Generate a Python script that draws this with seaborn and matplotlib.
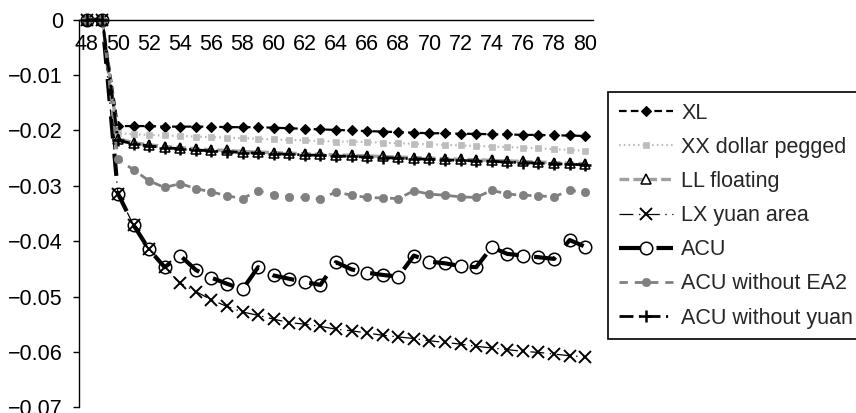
import numpy as np
import pandas as pd
import matplotlib
matplotlib.use("Agg")
import matplotlib.pyplot as plt
import seaborn as sns
from matplotlib.ticker import FixedLocator, FixedFormatter

# ---------------- data ----------------
periods = list(range(48, 81))

xl = [0, 0, -0.0192, -0.0192, -0.0192, -0.0193, -0.0193, -0.0193, -0.0193, -0.0194,
      -0.0194, -0.0194, -0.0195, -0.0196, -0.0197, -0.0198, -0.0199, -0.0200, -0.0201,
      -0.0202, -0.0203, -0.0204, -0.0205, -0.0205, -0.0206, -0.0206, -0.0207, -0.0207,
      -0.0208, -0.0208, -0.0209, -0.0209, -0.0210]
xx_dollar = [0, 0, -0.0205, -0.0207, -0.0208, -0.0209, -0.0210, -0.0211, -0.0212, -0.0213,
             -0.0214, -0.0215, -0.0216, -0.0217, -0.0218, -0.0219, -0.0220, -0.0220, -0.0221,
             -0.0222, -0.0223, -0.0224, -0.0225, -0.0226, -0.0227, -0.0228, -0.0229, -0.0230,
             -0.0231, -0.0232, -0.0234, -0.0235, -0.0237]
ll_floating = [0, 0, -0.0215, -0.0222, -0.0226, -0.0229, -0.0231, -0.0233, -0.0235, -0.0236,
               -0.0238, -0.0239, -0.0240, -0.0241, -0.0242, -0.0243, -0.0244, -0.0245, -0.0246,
               -0.0247, -0.0248, -0.0249, -0.0250, -0.0251, -0.0252, -0.0253, -0.0254, -0.0255,
               -0.0256, -0.0257, -0.0258, -0.0259, -0.0260]
lx_yuan = [0, 0, -0.0314, -0.0371, -0.0415, -0.0447, -0.0476, -0.0491, -0.0506, -0.0518,
           -0.0528, -0.0534, -0.0541, -0.0547, -0.0550, -0.0554, -0.0559, -0.0562, -0.0566,
           -0.0570, -0.0573, -0.0576, -0.0580, -0.0583, -0.0586, -0.0590, -0.0593, -0.0596,
           -0.0599, -0.0601, -0.0604, -0.0607, -0.0609]
acu = [0, 0, -0.0314, -0.0371, -0.0415, -0.0447, -0.0426, -0.0452, -0.0466, -0.0477,
       -0.0487, -0.0447, -0.0462, -0.0468, -0.0474, -0.0479, -0.0438, -0.0451, -0.0457,
       -0.0461, -0.0464, -0.0426, -0.0437, -0.0440, -0.0445, -0.0447, -0.0411, -0.0423,
       -0.0426, -0.0429, -0.0432, -0.0398, -0.0410]
acu_no_ea2 = [0, 0, -0.0252, -0.0271, -0.0291, -0.0303, -0.0296, -0.0305, -0.0311, -0.0318,
              -0.0323, -0.0309, -0.0316, -0.0320, -0.0321, -0.0324, -0.0311, -0.0317, -0.0321,
              -0.0322, -0.0323, -0.0309, -0.0315, -0.0317, -0.0320, -0.0321, -0.0308, -0.0315,
              -0.0317, -0.0318, -0.0320, -0.0308, -0.0312]
acu_no_yuan = [0, 0, -0.0218, -0.0224, -0.0228, -0.0231, -0.0233, -0.0235, -0.0237, -0.0238,
               -0.0240, -0.0241, -0.0242, -0.0243, -0.0244, -0.0245, -0.0246, -0.0247, -0.0248,
               -0.0249, -0.0250, -0.0251, -0.0252, -0.0253, -0.0254, -0.0255, -0.0256, -0.0257,
               -0.0258, -0.0259, -0.0260, -0.0261, -0.0262]

series_names = ["XL", "XX dollar pegged", "LL floating", "LX yuan area",
                "ACU", "ACU without EA2", "ACU without yuan"]
series_values = [xl, xx_dollar, ll_floating, lx_yuan, acu, acu_no_ea2, acu_no_yuan]

y_ticks = [0, -0.01, -0.02, -0.03, -0.04, -0.05, -0.06, -0.07]
y_tick_labels = ["0", "\u22120.01", "\u22120.02", "\u22120.03", "\u22120.04",
                 "\u22120.05", "\u22120.06", "\u22120.07"]
x_label_ticks = list(range(48, 81, 2))
x_tick_labels = [str(v) for v in x_label_ticks]

df = pd.concat(
    [pd.DataFrame({"period": periods, "value": vals, "series": name})
     for name, vals in zip(series_names, series_values)],
    ignore_index=True)

# ---------------- styles ----------------
styles = {
    "XL": dict(color="black", lw=1.6, linestyle=(0, (5.5, 3)), marker="D", ms=5.2,
               mfc="black", mec="black", mew=0.8),
    "XX dollar pegged": dict(color="#bdbdbd", lw=1.6, linestyle=(0, (1.2, 2.2)), marker="s",
                             ms=4.8, mfc="#bdbdbd", mec="#bdbdbd", mew=0.5),
    "LL floating": dict(color="#a0a0a0", lw=2.4, linestyle=(0, (7, 3)), marker="^", ms=7,
                        mfc="white", mec="black", mew=1.1),
    "LX yuan area": dict(color="black", lw=0.9, linestyle=(0, (10, 4, 1, 4)), marker="x",
                         ms=8, mfc="black", mec="black", mew=1.4),
    "ACU": dict(color="black", lw=3.0, linestyle=(0, (16, 11)), marker="o", ms=9,
                mfc="none", mec="black", mew=1.1),
    "ACU without EA2": dict(color="#808080", lw=2.0, linestyle=(0, (6, 5)), marker="o",
                            ms=6, mfc="#808080", mec="#808080", mew=0.5),
    "ACU without yuan": dict(color="black", lw=2.0, linestyle=(0, (10, 4, 1.5, 4)),
                             marker="+", ms=9, mfc="black", mec="black", mew=1.8),
}

sns.set_style("white")
plt.rcParams["font.family"] = ["Liberation Sans", "DejaVu Sans"]
plt.rcParams["lines.scale_dashes"] = False

W, H = 856, 413
FS = 15.5
fig = plt.figure(figsize=(W / 100, H / 100), dpi=100)
ax = fig.add_axes([79 / W, 1 - 407.2 / H, (593 - 79) / W, (407.2 - 19.8) / H])

for name in series_names:
    sub = df[df["series"] == name]
    sns.lineplot(data=sub, x="period", y="value", ax=ax, label=name,
                 estimator=None, sort=False, clip_on=False, **styles[name])

ax.set_xlim(47.5, 80.5)
ax.set_ylim(-0.07, 0)
ax.set_xlabel("")
ax.set_ylabel("")

for s in ["top", "right"]:
    ax.spines[s].set_visible(False)
ax.spines["bottom"].set_position(("data", 0))
for s in ["bottom", "left"]:
    ax.spines[s].set_color("black")
    ax.spines[s].set_linewidth(1.0)

ax.xaxis.set_major_locator(FixedLocator(x_label_ticks))
ax.xaxis.set_major_formatter(FixedFormatter(x_tick_labels))
ax.xaxis.set_minor_locator(FixedLocator(np.arange(47.5, 81, 1.0)))
ax.tick_params(axis="x", which="major", length=0, pad=10, labelsize=FS, colors="black")
ax.tick_params(axis="x", which="minor", length=4.5, width=1, direction="out", color="black")

ax.yaxis.set_major_locator(FixedLocator(y_ticks))
ax.yaxis.set_major_formatter(FixedFormatter(y_tick_labels))
ax.tick_params(axis="y", which="major", length=4.5, width=1, direction="out", pad=7,
               labelsize=FS, colors="black", left=True)
ax.grid(False)

leg = ax.legend(loc="upper left", bbox_to_anchor=(608 / W, 1 - 92 / H),
                bbox_transform=fig.transFigure, frameon=True, fancybox=False,
                edgecolor="black", framealpha=1, fontsize=FS, handlelength=2.5,
                handletextpad=0.4, labelspacing=0.61, borderpad=0.5, borderaxespad=0)
leg.get_frame().set_linewidth(1.2)

fig.savefig("out.png", dpi=100)
